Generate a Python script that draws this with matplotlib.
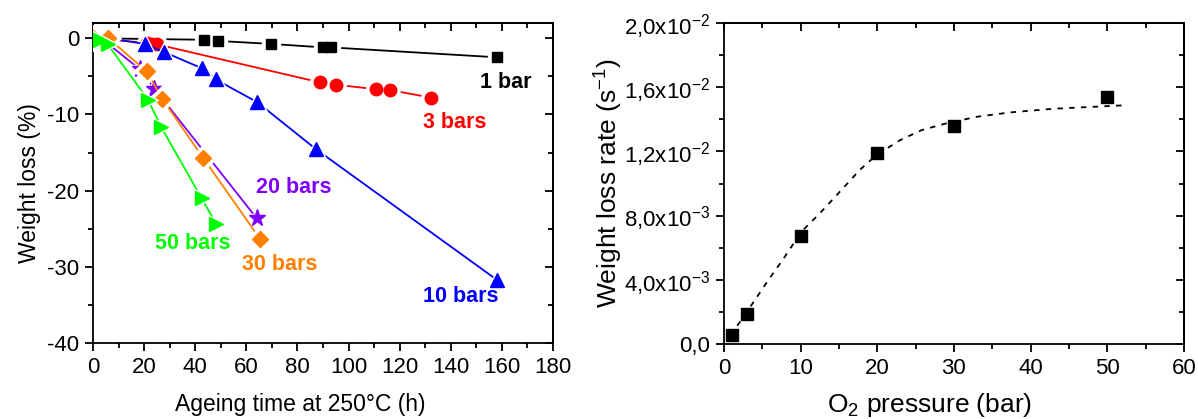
import numpy as np
import matplotlib
matplotlib.use("Agg")
import matplotlib.pyplot as plt
from matplotlib.ticker import MultipleLocator, FixedLocator, FixedFormatter

plt.rcParams['font.family'] = ['Liberation Sans', 'DejaVu Sans']
plt.rcParams['mathtext.fontset'] = 'custom'
plt.rcParams['mathtext.rm'] = 'Liberation Sans'
plt.rcParams['mathtext.it'] = 'Liberation Sans:italic'
plt.rcParams['mathtext.bf'] = 'Liberation Sans:bold'
plt.rcParams['axes.unicode_minus'] = False

# ---- left panel: weight loss vs ageing time, one series per O2 pressure
t_1bar = [0, 43.5, 48.9, 69.8, 90, 93, 158]
w_1bar = [0, -0.2, -0.35, -0.75, -1.2, -1.2, -2.5]
t_3bar = [0, 21, 23, 25, 88.9, 95.2, 110.8, 116.3, 132.3]
w_3bar = [0, -0.6, -0.7, -0.8, -5.8, -6.1, -6.7, -6.8, -7.8]
t_10bar = [0, 4, 20.3, 27.7, 42.7, 48, 64.3, 87.4, 158]
w_10bar = [0, 0.1, -0.75, -1.8, -3.95, -5.4, -8.4, -14.6, -31.7]
t_20bar = [0, 4, 18.4, 24, 64]
w_20bar = [0, -0.2, -4.1, -6.6, -23.6]
t_30bar = [0, 6, 21, 27.2, 43.1, 65.5]
w_30bar = [0, 0, -4.35, -8.0, -15.7, -26.4]
t_50bar = [1, 2.7, 5.7, 21.6, 26.6, 42.5, 48.3]
w_50bar = [0, -0.2, -0.75, -8.1, -11.6, -21.0, -24.4]

series_names = ['1 bar', '3 bars', '10 bars', '20 bars', '30 bars', '50 bars']
series_t = [t_1bar, t_3bar, t_10bar, t_20bar, t_30bar, t_50bar]
series_w = [w_1bar, w_3bar, w_10bar, w_20bar, w_30bar, w_50bar]
series_colors = ['#000000', '#ff0000', '#0000ff', '#8000ff', '#ff8000', '#00ff00']
series_markers = ['s', 'o', '^', '*', 'D', '>']
series_msize = [7.5, 9, 9.5, 12.5, 8, 9.5]
label_pos = [(161.7, -5.75), (141.4, -11.0), (144.1, -33.9),
             (78.5, -19.6), (73, -29.7), (39, -26.9)]

# ---- right panel: weight loss rate vs O2 pressure
pressure = [1, 3, 10, 20, 30, 50]
rate = [5.6e-4, 1.87e-3, 6.73e-3, 1.188e-2, 1.358e-2, 1.541e-2]
fit_p = [1, 1.65, 3.6, 5.8, 7.8, 10.1, 12.5, 15.0, 17.7, 19.9, 23.0, 25.8,
         29.0, 33.0, 37.3, 43.0, 52.0]
fit_r = [5.0e-4, 1.08e-3, 2.43e-3, 3.99e-3, 5.34e-3, 7.0e-3, 8.14e-3, 9.43e-3,
         1.084e-2, 1.178e-2, 1.271e-2, 1.333e-2, 1.375e-2, 1.416e-2, 1.443e-2,
         1.466e-2, 1.487e-2]
rate_ticks = [0, 4e-3, 8e-3, 1.2e-2, 1.6e-2, 2.0e-2]
rate_labels = ['0,0', r'4,0x10$^{-3}$', r'8,0x10$^{-3}$', r'1,2x10$^{-2}$',
               r'1,6x10$^{-2}$', r'2,0x10$^{-2}$']

fig = plt.figure(figsize=(11.98, 4.19), dpi=100)
ax1 = fig.add_axes([0.0776, 0.1814, 0.384, 0.7637])
ax2 = fig.add_axes([0.6043, 0.179, 0.384, 0.766])

TICKFS = 16


def style_axes(ax, xmajor, xminor, ymajor=None, yminor=None):
    for s in ax.spines.values():
        s.set_linewidth(1.3)
    ax.xaxis.set_major_locator(MultipleLocator(xmajor))
    ax.xaxis.set_minor_locator(MultipleLocator(xminor))
    if ymajor is not None:
        ax.yaxis.set_major_locator(MultipleLocator(ymajor))
        ax.yaxis.set_minor_locator(MultipleLocator(yminor))
    ax.tick_params(which='both', direction='out', width=1.3, labelsize=TICKFS, pad=4)
    ax.tick_params(which='major', length=6)
    ax.tick_params(which='minor', length=3.5)
    # mirrored ticks pointing inward on top and right
    top = ax.secondary_xaxis('top')
    top.xaxis.set_major_locator(ax.xaxis.get_major_locator())
    top.xaxis.set_minor_locator(ax.xaxis.get_minor_locator())
    top.tick_params(which='both', direction='in', labeltop=False, width=1.3)
    top.tick_params(which='major', length=6)
    top.tick_params(which='minor', length=3.5)
    right = ax.secondary_yaxis('right')
    right.yaxis.set_major_locator(ax.yaxis.get_major_locator())
    right.yaxis.set_minor_locator(ax.yaxis.get_minor_locator())
    right.tick_params(which='both', direction='in', labelright=False, width=1.3)
    right.tick_params(which='major', length=6)
    right.tick_params(which='minor', length=3.5)
    for sec in (top, right):
        for s in sec.spines.values():
            s.set_linewidth(1.3)


# left panel
for i in range(len(series_names)):
    c = series_colors[i]
    z = 2 + i * 3
    ax1.plot(series_t[i], series_w[i], '-', color=c, lw=1.3, zorder=z)
    ax1.plot(series_t[i], series_w[i], ls='none', marker=series_markers[i],
             ms=series_msize[i] + 5, color='white', mec='white', zorder=z + 1)
    ax1.plot(series_t[i], series_w[i], ls='none', marker=series_markers[i],
             ms=series_msize[i], color=c, mec=c, zorder=z + 2)
    ax1.text(label_pos[i][0], label_pos[i][1], series_names[i], color=c,
             fontsize=15.5, fontweight='bold', ha='center', va='center', zorder=30)

ax1.set_xlim(0, 180)
ax1.set_ylim(-40, 2)
style_axes(ax1, 20, 10, 10, 5)
ax1.set_xlabel('Ageing time at 250°C (h)', fontsize=16.5, labelpad=10)
ax1.xaxis.set_label_coords(0.45, -0.155)
ax1.set_ylabel('Weight loss (%)', fontsize=16.5, labelpad=4)

# right panel
ax2.plot(fit_p, fit_r, color='black', lw=1.3, ls=(0, (3, 3.5)), zorder=2)
ax2.plot(pressure, rate, ls='none', marker='s', ms=8, color='black', zorder=3)
ax2.set_xlim(0, 60)
ax2.set_ylim(0, 2.0e-2)
ax2.yaxis.set_major_locator(FixedLocator(rate_ticks))
ax2.yaxis.set_major_formatter(FixedFormatter(rate_labels))
ax2.yaxis.set_minor_locator(MultipleLocator(2e-3))
style_axes(ax2, 10, 5)
ax2.set_xlabel(r'O$_2$ pressure (bar)', fontsize=19, labelpad=6)
ax2.xaxis.set_label_coords(0.448, -0.145)
ax2.set_ylabel(r'Weight loss rate (s$^{-1}$)', fontsize=19, labelpad=-1)

fig.savefig('out.png', dpi=100)
